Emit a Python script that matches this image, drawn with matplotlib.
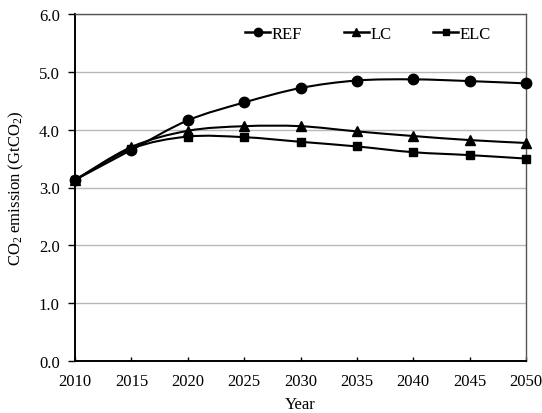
import numpy as np
import matplotlib
matplotlib.use("Agg")
import matplotlib.pyplot as plt
from matplotlib.path import Path
from matplotlib.patches import PathPatch
from matplotlib.lines import Line2D

plt.rcParams['font.family'] = ['Liberation Serif', 'DejaVu Serif']
plt.rcParams['mathtext.fontset'] = 'custom'
plt.rcParams['mathtext.rm'] = 'Liberation Serif'
plt.rcParams['mathtext.it'] = 'Liberation Serif:italic'

years = [2010, 2015, 2020, 2025, 2030, 2035, 2040, 2045, 2050]
ref = [3.13, 3.65, 4.16, 4.47, 4.72, 4.85, 4.87, 4.84, 4.80]
lc = [3.13, 3.70, 3.98, 4.06, 4.06, 3.97, 3.89, 3.82, 3.77]
elc = [3.13, 3.67, 3.88, 3.87, 3.79, 3.71, 3.61, 3.56, 3.50]

series = [("REF", ref, "o", 7.5), ("LC", lc, "^", 7.5), ("ELC", elc, "s", 6.0)]
FS = 12


def smooth_path(x, y, tension=1.0 / 6.0):
    """Cubic Bezier path through the points (Catmull-Rom style smoothing)."""
    x = np.asarray(x, float)
    y = np.asarray(y, float)
    n = len(x)
    verts = [(x[0], y[0])]
    codes = [Path.MOVETO]
    for i in range(n - 1):
        x0, y0 = (x[i - 1], y[i - 1]) if i > 0 else (x[i], y[i])
        x3, y3 = (x[i + 2], y[i + 2]) if i + 2 < n else (x[i + 1], y[i + 1])
        c1 = (x[i] + (x[i + 1] - x0) * tension, y[i] + (y[i + 1] - y0) * tension)
        c2 = (x[i + 1] - (x3 - x[i]) * tension, y[i + 1] - (y3 - y[i]) * tension)
        verts += [c1, c2, (x[i + 1], y[i + 1])]
        codes += [Path.CURVE4] * 3
    return Path(verts, codes)


fig = plt.figure(figsize=(5.42, 4.14), dpi=100)
ax = fig.add_axes([75 / 542, 1 - 362 / 414, (526 - 75) / 542, (362 - 15) / 414])

handles = []
for name, vals, mk, ms in series:
    patch = PathPatch(smooth_path(years, vals), facecolor='none', edgecolor='black',
                      lw=1.5, zorder=3)
    ax.add_patch(patch)
    ax.plot(years, vals, linestyle='none', marker=mk, ms=ms, color='black',
            zorder=4, clip_on=False)
    handles.append(Line2D([], [], color='black', lw=1.8, marker=mk, ms=ms * 0.8, label=name))

ax.set_xlim(2010, 2050)
ax.set_ylim(0, 6)
ax.set_xticks(years)
ax.set_yticks(np.arange(0, 6.01, 1.0))
ax.set_yticklabels([f"{v:.1f}" for v in np.arange(0, 6.01, 1.0)])
ax.yaxis.grid(True, color='#b8b8b8', lw=1.0)
ax.set_axisbelow(True)

ax.tick_params(axis='x', labelsize=FS, direction='in', length=3, color='black', width=1.0, pad=9)
ax.tick_params(axis='y', labelsize=FS, direction='out', length=5, color='black', width=1.0, pad=6)
for s in ['left', 'bottom']:
    ax.spines[s].set_color('black')
    ax.spines[s].set_linewidth(1.4)
for s in ['top', 'right']:
    ax.spines[s].set_color('#555555')
    ax.spines[s].set_linewidth(1.0)

ax.set_xlabel("Year", fontsize=FS, labelpad=5)
ax.set_ylabel(r"CO$_2$ emission (GtCO$_2$)", fontsize=FS, labelpad=9)

ax.legend(handles=handles, loc='upper left', ncol=3, frameon=False, fontsize=FS,
          handlelength=1.5, handletextpad=0.1, columnspacing=2.5,
          borderpad=0, borderaxespad=0,
          bbox_to_anchor=((245 - 75) / 451, 1 - (27 - 15) / 347))

fig.savefig("out.png", dpi=100)
